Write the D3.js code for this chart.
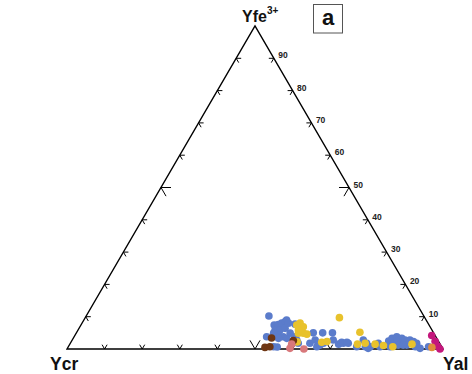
<!DOCTYPE html>
<html>
<head>
<meta charset="utf-8">
<script src="https://cdn.jsdelivr.net/npm/d3@7"></script>
<style>
  html, body { margin: 0; padding: 0; background: #fff; }
  svg { display: block; font-family: "Liberation Sans", Arial, sans-serif; }
</style>
</head>
<body>
<script>
// Ternary composition of spinel trivalent cations: Ycr – Yal – Yfe3+ (percent).
// Each sample is stored as (Yfe, Yal); Ycr = 100 - Yfe - Yal.

const tickValues = [10, 20, 30, 40, 50, 60, 70, 80, 90];
const tickLabels = ["10", "20", "30", "40", "50", "60", "70", "80", "90"];

const blueFe = [10.2, 7.4, 7.6, 8.0, 8.5, 9.0, 5.9, 5.9, 6.4, 4.3, 3.8, 3.3, 4.9, 3.8, 3.3, 0.7, 0.6,
  8.0, 4.9, 7.7, 3.8, 2.8, 1.8, 5.0, 5.0, 5.0, 1.8, 2.8, 1.2, 0.7, 1.2, 1.8, 2.8, 1.5, 1.8, 2.1,
  1.8, 2.1, 0.7, 2.8, 0.7, 1.8, 0.2, 0.7, 1.8, 0.7, 2.5, 3.3, 1.8, 0.7, 3.8, 3.3, 2.3, 1.8, 2.8,
  1.2, 1.2, 1.2, 2.8, 2.3, 1.8, 0.7, 0.2, 0.7];
const blueAl = [48.6, 51.4, 52.4, 53.1, 53.8, 53.9, 52.4, 53.7, 54.8, 54.1, 55.6, 56.8, 52.5, 51.2, 54.6, 54.6, 55.6,
  54.9, 56.9, 56.8, 58.7, 59.7, 60.6, 63.0, 65.5, 68.1, 63.7, 64.6, 66.2, 66.1, 66.7, 67.3, 69.4, 71.5, 72.6, 72.0,
  73.9, 73.4, 76.7, 77.4, 79.0, 78.8, 80.0, 80.3, 81.9, 82.9, 84.3, 84.8, 85.9, 85.6, 85.8, 87.4, 86.6, 88.1, 88.5,
  89.7, 87.5, 88.8, 89.8, 91.0, 92.1, 92.3, 93.8, 95.8];

const yellowFe = [8.0, 6.9, 7.4, 4.9, 4.9, 4.6, 5.9, 2.1, 2.3, 9.7, 5.2, 1.5, 1.8, 1.5, 1.1, 0.7, 1.5, 2.2];
const yellowAl = [58.0, 59.4, 57.4, 59.1, 60.4, 61.5, 58.6, 66.7, 68.0, 67.6, 75.3, 76.5, 78.4, 81.2, 83.6, 86.3, 91.0, 60.1];

const brownFe = [0.5, 0.7, 3.4, 2.6];
const brownAl = [52.4, 53.6, 52.7, 58.9];

const pinkFe = [0.2, 1.5, 0.0];
const pinkAl = [59.2, 59.0, 63.0];

const magentaFe = [4.2, 2.4, 0.9, 0.0];
const magentaAl = [94.9, 96.7, 98.1, 99.2];

const orangeFe = [0.5];
const orangeAl = [96.8];

const groups = [
  { fe: blueFe, al: blueAl, color: "#5b7ccb" },
  { fe: yellowFe, al: yellowAl, color: "#e8c22c" },
  { fe: brownFe, al: brownAl, color: "#6e3614" },
  { fe: pinkFe, al: pinkAl, color: "#d8787b" },
  { fe: magentaFe, al: magentaAl, color: "#c4177c" },
  { fe: orangeFe, al: orangeAl, color: "#e08c3c" }
];

const width = 472, height = 374;
const svg = d3.select("body").append("svg").attr("width", width).attr("height", height);

// horizontal position follows Yal + Yfe/2, vertical follows Yfe
const xs = d3.scaleLinear().domain([0, 100]).range([67, 443]);
const ys = d3.scaleLinear().domain([0, 100]).range([349, 26]);
const proj = (fe, al) => [xs(al + fe / 2), ys(fe)];

const pCr = proj(0, 0), pAl = proj(0, 100), pFe = proj(100, 0);

svg.append("path")
  .attr("d", d3.line()([pCr, pAl, pFe, pCr]) + "Z")
  .attr("fill", "none").attr("stroke", "#000").attr("stroke-width", 1.4)
  .attr("stroke-linejoin", "miter");

const unit = (a, b) => {
  const dx = b[0] - a[0], dy = b[1] - a[1], l = Math.hypot(dx, dy);
  return [dx / l, dy / l];
};
const upLeftEdge = unit(pCr, pFe);    // along Ycr→Yfe edge, upward
const upRightEdge = unit(pAl, pFe);   // along Yal→Yfe edge, upward
const downLeftEdge = [-upLeftEdge[0], -upLeftEdge[1]];
const downRightEdge = [-upRightEdge[0], -upRightEdge[1]];

const ticks = [];
tickValues.forEach(v => {
  const len = v === 50 ? 10 : 5;
  ticks.push({ p: proj(0, v), a: upLeftEdge, b: upRightEdge, len });          // base
  ticks.push({ p: proj(v, 0), a: [1, 0], b: downRightEdge, len });            // Ycr–Yfe side
  ticks.push({ p: proj(v, 100 - v), a: [-1, 0], b: downLeftEdge, len });      // Yal–Yfe side
});

svg.append("g").selectAll("path").data(ticks).join("path")
  .attr("d", t => d3.line()([
    [t.p[0] + t.a[0] * t.len, t.p[1] + t.a[1] * t.len],
    t.p,
    [t.p[0] + t.b[0] * t.len, t.p[1] + t.b[1] * t.len]
  ]))
  .attr("fill", "none").attr("stroke", "#000").attr("stroke-width", 1);

svg.append("g").selectAll("text").data(tickValues).join("text")
  .attr("x", v => proj(v, 100 - v)[0] + 4.5)
  .attr("y", v => proj(v, 100 - v)[1])
  .attr("font-size", 8.5).attr("font-weight", "bold").attr("fill", "#222")
  .text((v, i) => tickLabels[i]);

// samples
groups.forEach(g => {
  svg.append("g").selectAll("circle").data(g.fe.map((f, i) => [f, g.al[i]])).join("circle")
    .attr("cx", d => proj(d[0], d[1])[0])
    .attr("cy", d => proj(d[0], d[1])[1])
    .attr("r", 3.8)
    .attr("fill", g.color);
});

// vertex labels
const apexLabel = svg.append("text").attr("x", 242).attr("y", 22)
  .attr("font-size", 16).attr("font-weight", "bold").attr("fill", "#111");
apexLabel.append("tspan").text("Yfe");
apexLabel.append("tspan").attr("font-size", 10).attr("dy", -8).text("3+");

svg.append("text").attr("x", 50).attr("y", 370)
  .attr("font-size", 17.5).attr("font-weight", "bold").attr("fill", "#111").text("Ycr");
svg.append("text").attr("x", 443).attr("y", 370)
  .attr("font-size", 17.5).attr("font-weight", "bold").attr("fill", "#111").text("Yal");

// panel tag
svg.append("rect").attr("x", 313.5).attr("y", 4.5).attr("width", 29).attr("height", 28.5)
  .attr("fill", "#fff").attr("stroke", "#555").attr("stroke-width", 1);
svg.append("text").attr("x", 328).attr("y", 25).attr("text-anchor", "middle")
  .attr("font-size", 22).attr("font-weight", "bold").attr("fill", "#111").text("a");
</script>
</body>
</html>
